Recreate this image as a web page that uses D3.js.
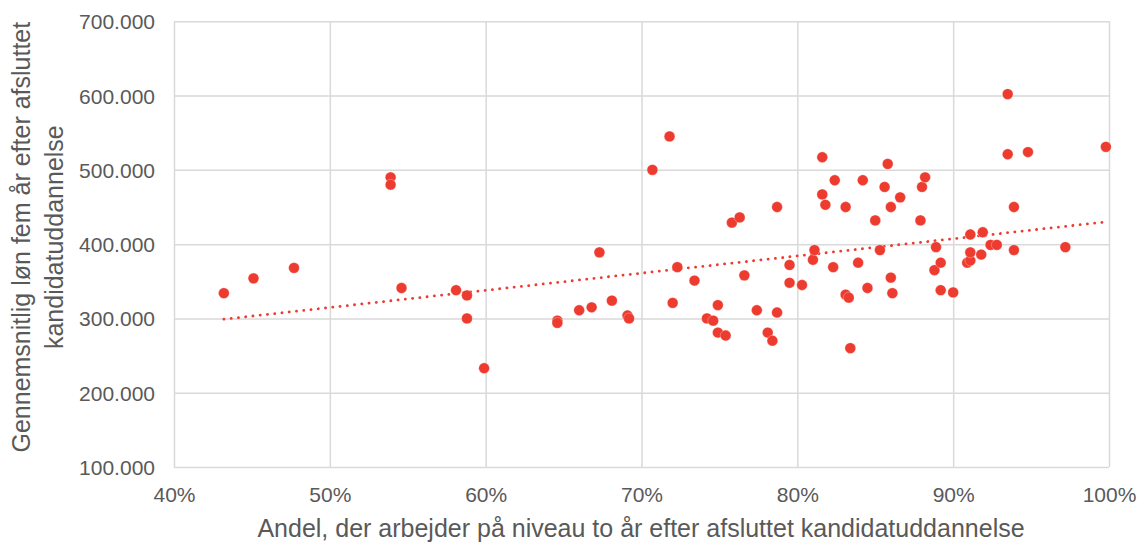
<!DOCTYPE html>
<html>
<head>
<meta charset="utf-8">
<script src="https://cdn.jsdelivr.net/npm/d3@7"></script>
<style>
  body { margin: 0; background: #fff; }
  svg text { font-family: "Liberation Sans", Arial, sans-serif; fill: #595959; }
</style>
</head>
<body>
<div id="chart"></div>
<script>
// Andel i arbejde på niveau (%) og gennemsnitlig løn (kr.) pr. uddannelse
const shareAtLevel = [
    43.2, 45.1, 47.7, 53.9, 53.9, 54.6, 58.1, 58.8, 58.8, 59.9,
    64.6, 64.6, 66.0, 66.8, 67.3, 68.1, 69.1, 69.2, 70.7, 71.8,
    72.0, 72.3, 73.4, 74.2, 74.6, 74.9, 74.9, 75.4, 75.8, 76.3,
    76.6, 77.4, 78.1, 78.4, 78.7, 78.7, 79.5, 79.5, 80.3, 81.0,
    81.1, 81.6, 81.6, 81.8, 82.3, 82.4, 83.1, 83.1, 83.3, 83.4,
    83.9, 84.2, 84.5, 85.0, 85.3, 85.6, 85.8, 86.0, 86.0, 86.1,
    86.6, 87.9, 88.0, 88.2, 88.8, 88.9, 89.2, 89.2, 90.0, 90.9,
    91.1, 91.1, 91.1, 91.8, 91.9, 92.4, 92.8, 93.5, 93.5, 93.9,
    93.9, 94.8, 97.2, 99.8
];
const avgSalary = [
    334000, 354000, 368000, 490000, 480000, 341000, 338000, 331000, 300000, 233000,
    297000, 294000, 311000, 315000, 389000, 324000, 304000, 300000, 500000, 545000,
    321000, 369000, 351000, 300000, 297000, 318000, 281000, 277000, 429000, 436000,
    358000, 311000, 281000, 270000, 450000, 308000, 372000, 348000, 345000, 379000,
    392000, 517000, 467000, 453000, 369000, 486000, 450000, 332000, 328000, 260000,
    375000, 486000, 341000, 432000, 392000, 477000, 508000, 450000, 355000, 334000,
    463000, 432000, 477000, 490000, 365000, 396000, 375000, 338000, 335000, 375000,
    378000, 389000, 413000, 386000, 416000, 399000, 399000, 602000, 521000, 450000,
    392000, 524000, 396000, 531000
];
// Tendenslinjens endepunkter
const trendShare = [43.2, 99.8];
const trendSalary = [299000, 430000];

const xTicks = [40, 50, 60, 70, 80, 90, 100];
const yTicks = [100000, 200000, 300000, 400000, 500000, 600000, 700000];

const xTitle = "Andel, der arbejder på niveau to år efter afsluttet kandidatuddannelse";
const yTitle = ["Gennemsnitlig løn fem år efter afsluttet", "kandidatuddannelse"];

const data = shareAtLevel.map((x, i) => ({ x, y: avgSalary[i] }));
const trend = trendShare.map((x, i) => ({ x, y: trendSalary[i] }));

const width = 1145, height = 545;
const margin = { top: 21.3, right: 36, bottom: 78, left: 174 };
const innerW = width - margin.left - margin.right;
const innerH = height - margin.top - margin.bottom;

const svg = d3.select("#chart")
    .append("svg")
    .attr("width", width)
    .attr("height", height);

const g = svg.append("g")
    .attr("transform", `translate(${margin.left}, ${margin.top})`);

const x = d3.scaleLinear().domain([40, 100]).range([0, innerW]);
const y = d3.scaleLinear().domain([100000, 700000]).range([innerH, 0]);

const da = d3.formatLocale({ decimal: ",", thousands: ".", grouping: [3], currency: ["", " kr."] });
const fmtY = da.format(",");

// Gitterlinjer
g.append("g")
    .attr("transform", `translate(0, ${innerH})`)
    .call(d3.axisBottom(x).tickValues(xTicks).tickSize(-innerH).tickFormat(d => d + "%"))
    .call(ax => ax.select(".domain").remove())
    .call(ax => ax.selectAll("line").attr("stroke", "#d9d9d9").attr("stroke-width", 1.5))
    .call(ax => ax.selectAll("text")
        .attr("y", 35)
        .attr("dy", 0)
        .attr("font-size", "21px")
        .attr("fill", "#595959"));

g.append("g")
    .call(d3.axisLeft(y).tickValues(yTicks).tickSize(-innerW).tickFormat(fmtY))
    .call(ax => ax.select(".domain").remove())
    .call(ax => ax.selectAll("line").attr("stroke", "#d9d9d9").attr("stroke-width", 1.5))
    .call(ax => ax.selectAll("text")
        .attr("x", -19)
        .attr("dy", "0.36em")
        .attr("font-size", "21px")
        .attr("fill", "#595959"));

// Lineær tendenslinje
g.append("path")
    .datum(trend)
    .attr("fill", "none")
    .attr("stroke", "#ee3b2f")
    .attr("stroke-width", 2.8)
    .attr("stroke-linecap", "round")
    .attr("stroke-dasharray", "0.1 7.2")
    .attr("d", d3.line().x(d => x(d.x)).y(d => y(d.y)));

// Punkter
g.selectAll("circle")
    .data(data)
    .enter()
    .append("circle")
    .attr("cx", d => x(d.x))
    .attr("cy", d => y(d.y))
    .attr("r", 5.4)
    .attr("fill", "#ee3b2f")
    .attr("stroke", "#fff")
    .attr("stroke-width", 0.5)
    .attr("stroke-opacity", 0.6);

// Aksetitler
svg.append("text")
    .attr("x", margin.left + innerW / 2 - 0.5)
    .attr("y", 536.5)
    .attr("text-anchor", "middle")
    .attr("font-size", "25px")
    .text(xTitle);

const yt = svg.append("text")
    .attr("transform", `translate(30, ${margin.top + innerH / 2 - 7}) rotate(-90)`)
    .attr("text-anchor", "middle")
    .attr("font-size", "25px");
yTitle.forEach((line, i) => {
    yt.append("tspan")
        .attr("x", 0)
        .attr("y", i * 33)
        .text(line);
});
</script>
</body>
</html>
